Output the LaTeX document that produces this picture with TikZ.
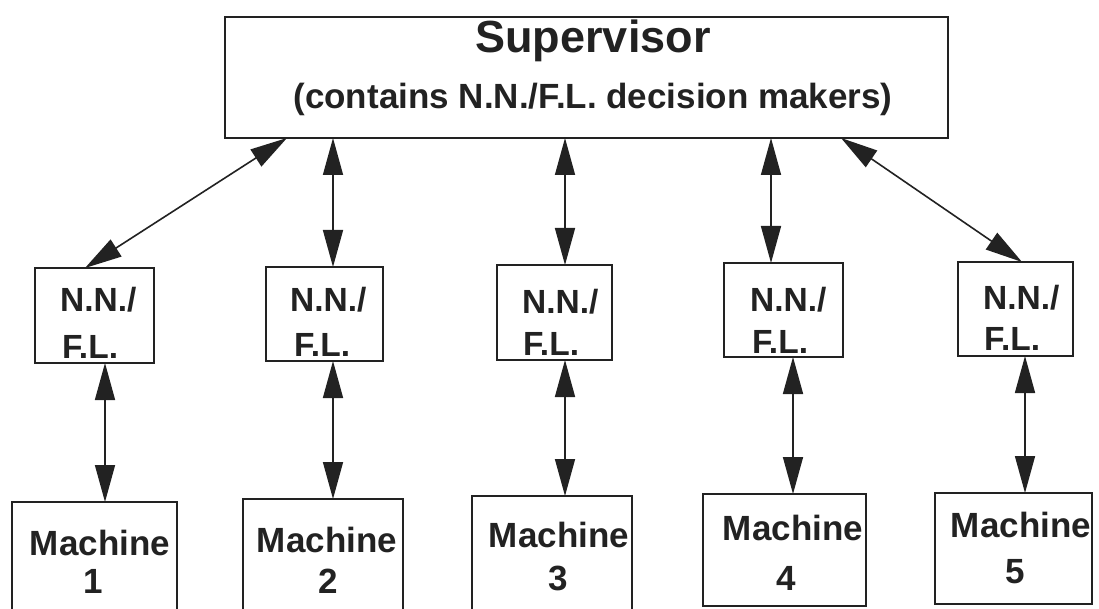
\documentclass[tikz,border=0pt]{standalone}
\usepackage{fontspec}
\setmainfont{Liberation Sans}
\usetikzlibrary{arrows.meta}
\definecolor{ink}{HTML}{222222}
\begin{document}
\begin{tikzpicture}[x=1pt,y=-1pt,
  box/.style={draw=ink, line width=1.9pt, rectangle, inner sep=0pt, outer sep=0pt},
  arr/.style={draw=ink, line width=1.6pt, {Triangle[length=37pt,width=20pt]}-{Triangle[length=37pt,width=20pt]}},
  lbl/.style={text=ink, inner sep=0pt, anchor=base, font=\bfseries\fontsize{35}{35}\selectfont},
  lblw/.style={text=ink, inner sep=0pt, anchor=base west, font=\bfseries\fontsize{33.5}{33.5}\selectfont},
]
\useasboundingbox (0,0) rectangle (1099,609);
\clip (0,0) rectangle (1099,609);
\fill[white] (0,0) rectangle (1099,609);

% supervisor
\node[box, minimum width=723pt, minimum height=121pt] (sup) at (586.5,77.5) {};
\node[text=ink, inner sep=0pt, anchor=base, font=\bfseries\fontsize{45}{45}\selectfont] (supt) at (593,53) {Supervisor};
\node[text=ink, inner sep=0pt, anchor=base, font=\bfseries\fontsize{35}{35}\selectfont] (supt2) at (593,109) {(contains N.N./F.L. decision makers)};

% N.N./F.L. boxes
\node[box, minimum width=119pt, minimum height=95pt] (nn1) at (94.5,315.5) {};
\node[box, minimum width=117pt, minimum height=94pt] (nn2) at (324.5,314) {};
\node[box, minimum width=115pt, minimum height=95pt] (nn3) at (554.5,312.5) {};
\node[box, minimum width=119pt, minimum height=94pt] (nn4) at (783.5,310) {};
\node[box, minimum width=115pt, minimum height=94pt] (nn5) at (1015.5,309) {};

\node[lblw] (nn1a) at (60,312) {N.N./};
\node[lblw] (nn1b) at (62,358) {F.L.};
\node[lblw] (nn2a) at (290,311) {N.N./};
\node[lblw] (nn2b) at (294,356) {F.L.};
\node[lblw] (nn3a) at (522,313) {N.N./};
\node[lblw] (nn3b) at (523,355) {F.L.};
\node[lblw] (nn4a) at (750,311) {N.N./};
\node[lblw] (nn4b) at (752,353) {F.L.};
\node[lblw] (nn5a) at (983,309) {N.N./};
\node[lblw] (nn5b) at (984,350) {F.L.};

% machines
\node[box, minimum width=165pt, minimum height=118pt] (m1) at (94.5,561) {};
\node[box, minimum width=160pt, minimum height=121pt] (m2) at (323,559.5) {};
\node[box, minimum width=160pt, minimum height=124pt] (m3) at (552,558) {};
\node[box, minimum width=163pt, minimum height=112pt] (m4) at (784.5,550) {};
\node[box, minimum width=157pt, minimum height=111pt] (m5) at (1013.5,548.5) {};

\node[lbl] (m1a) at (100,555) {Machine};
\node[lbl] (m1b) at (93,593) {1};
\node[lbl] (m2a) at (327,552) {Machine};
\node[lbl] (m2b) at (328,593) {2};
\node[lbl] (m3a) at (559,547) {Machine};
\node[lbl] (m3b) at (558,590) {3};
\node[lbl] (m4a) at (793,540) {Machine};
\node[lbl] (m4b) at (786,590) {4};
\node[lbl] (m5a) at (1021,537) {Machine};
\node[lbl] (m5b) at (1015,583) {5};

% supervisor <-> N.N./F.L.
\draw[arr] ([xshift=-299.5pt]sup.south) -- ([xshift=-9.5pt]nn1.north);
\draw[arr] ([xshift=-253.5pt]sup.south) -- ([xshift=8.5pt]nn2.north);
\draw[arr] ([xshift=-21.5pt]sup.south) -- ([xshift=10.5pt]nn3.north);
\draw[arr] ([xshift=184.5pt]sup.south) -- ([xshift=-12.5pt]nn4.north);
\draw[arr] ([xshift=254.5pt]sup.south) -- ([xshift=6.5pt]nn5.north);

% N.N./F.L. <-> machines
\draw[arr] ([xshift=10.5pt]nn1.south) -- ([xshift=10.5pt]m1.north);
\draw[arr] ([xshift=8.5pt]nn2.south) -- ([xshift=10pt]m2.north);
\draw[arr] ([xshift=10.5pt]nn3.south) -- ([xshift=13pt]m3.north);
\draw[arr] ([xshift=9.5pt]nn4.south) -- ([xshift=8.5pt]m4.north);
\draw[arr] ([xshift=9.5pt]nn5.south) -- ([xshift=11.5pt]m5.north);
\end{tikzpicture}
\end{document}
